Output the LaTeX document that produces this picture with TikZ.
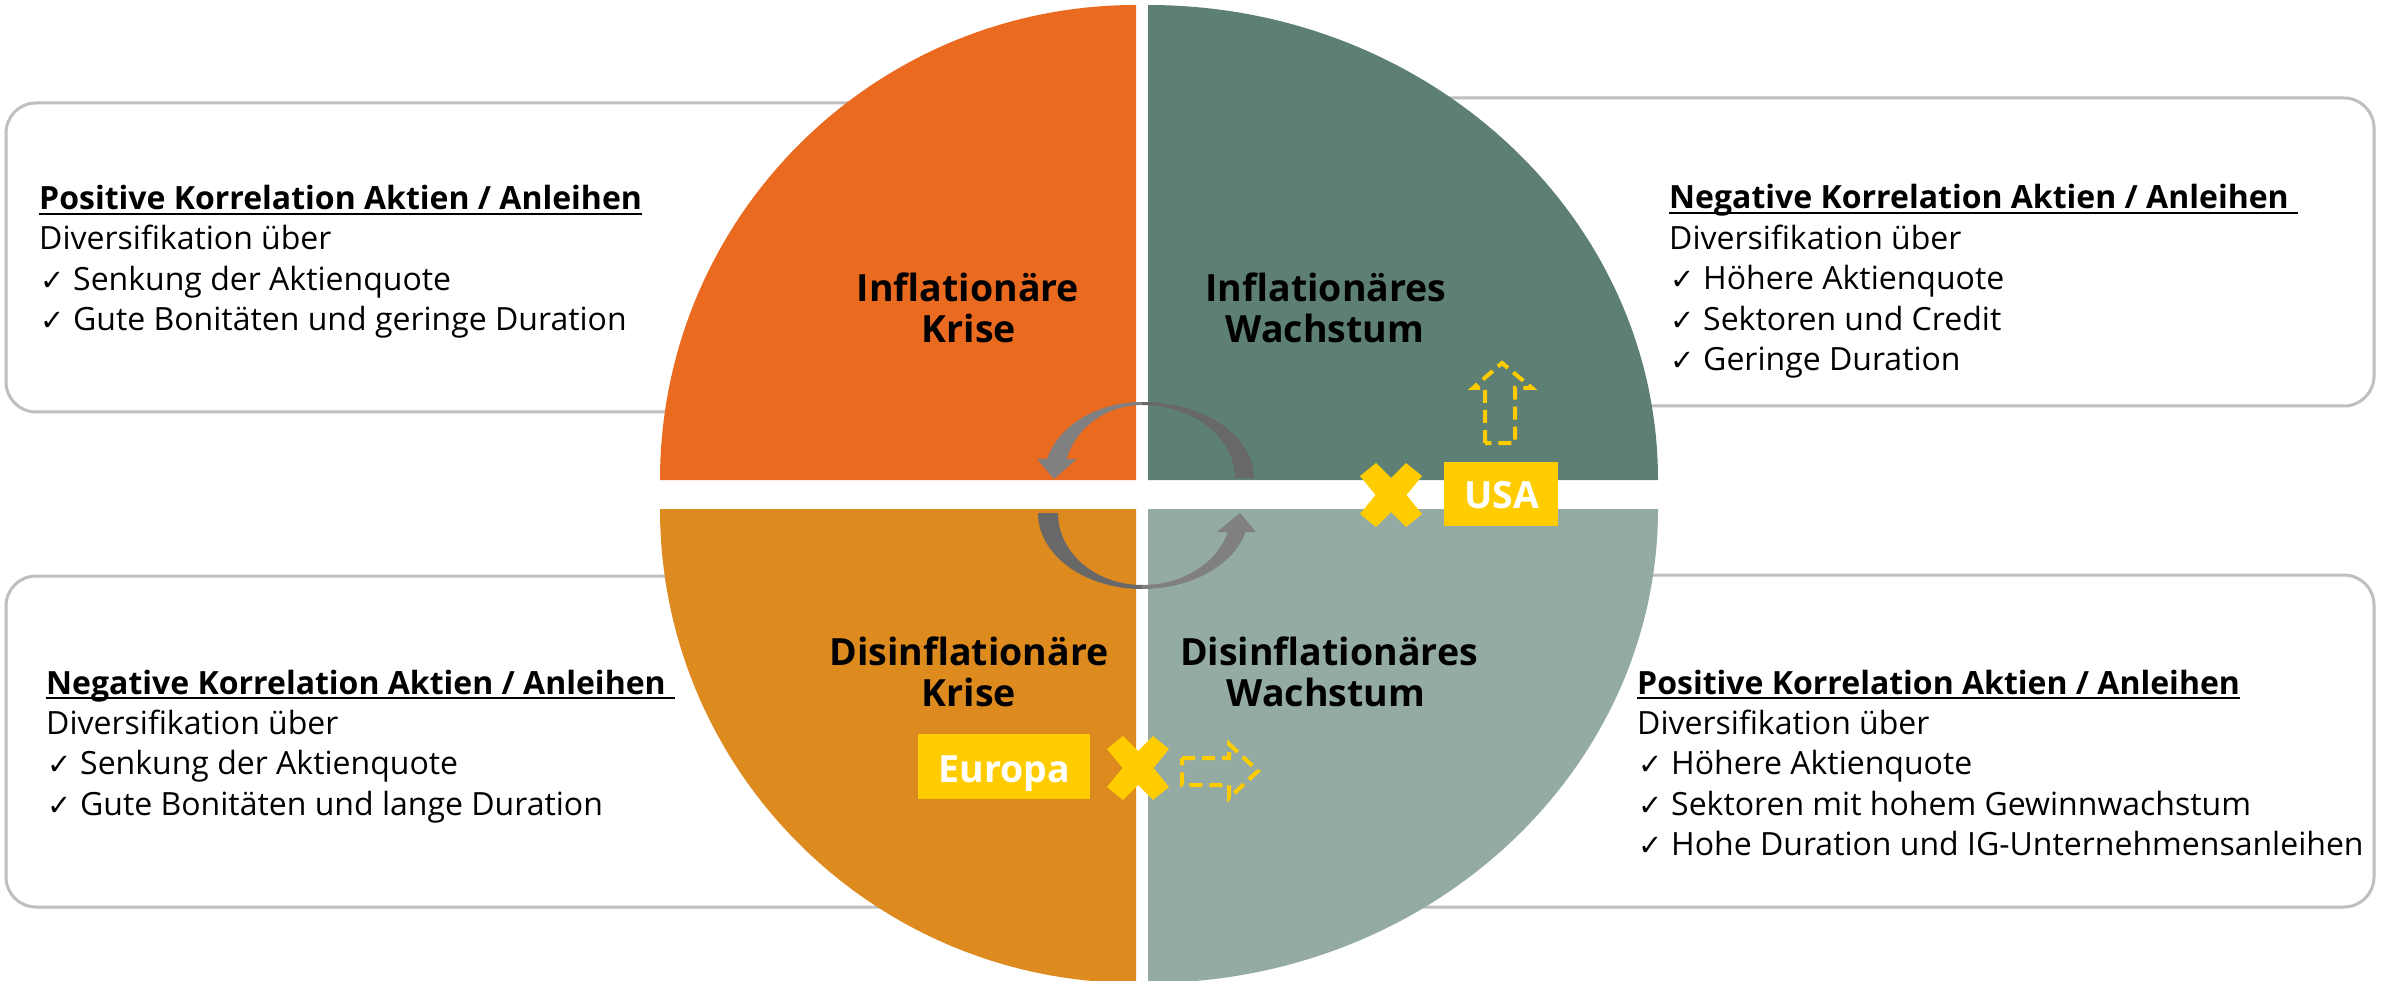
\documentclass[tikz,border=0pt]{standalone}
\usepackage{fontspec}
\IfFontExistsTF{Noto Sans Bold}
  {\setmainfont{Noto Sans}[BoldFont={Noto Sans Bold}]}
  {\setmainfont{Open Sans}}
\newfontfamily\chkfont{DejaVu Sans}

\definecolor{qTL}{HTML}{EA6A20}
\definecolor{qTR}{HTML}{5E7F73}
\definecolor{qBL}{HTML}{DD8A1E}
\definecolor{qBR}{HTML}{94ABA3}
\definecolor{markyellow}{HTML}{FFCC00}
\definecolor{framegray}{HTML}{BFBFBF}
\definecolor{arrLight}{HTML}{808080}
\definecolor{arrDark}{HTML}{686868}

\newcommand\chk{\makebox[33pt][l]{\chkfont\fontsize{29}{29}\selectfont ✓}}

\tikzset{
  infobox/.style={draw=framegray, line width=3pt, fill=white, rounded corners=30pt},
  txt/.style={anchor=base west, inner sep=0pt, font=\fontsize{32}{38}\selectfont},
  ttl/.style={anchor=base west, inner sep=0pt, font=\bfseries\fontsize{32}{38}\selectfont},
  uline/.style={line width=2.6pt},
  quad/.style={anchor=base, inner sep=0pt, font=\bfseries\fontsize{37.5}{41}\selectfont},
  tagbox/.style={fill=markyellow, inner sep=0pt},
  tagtxt/.style={anchor=base, inner sep=0pt, text=white, font=\bfseries\fontsize{37.5}{40}\selectfont},
  dasharrow/.style={draw=markyellow, line width=4pt, dash pattern=on 13pt off 7pt},
}

\begin{document}
\begin{tikzpicture}[x=1pt,y=-1pt]
\useasboundingbox (0,0) rectangle (2399,981);

% information frames behind the circle
\draw[infobox] (6,103) rectangle (1000,412);
\draw[infobox] (1300,98) rectangle (2374,406);
\draw[infobox] (6,576) rectangle (1000,907);
\draw[infobox] (1300,575) rectangle (2374,907);

% four quadrants
\fill[qTL] (1136,480) -- (660,480) arc[start angle=180,end angle=270,x radius=476,y radius=475] -- cycle;
\fill[qTR] (1148,480) -- (1148,5) arc[start angle=270,end angle=360,x radius=510,y radius=475] -- cycle;
\fill[qBL] (1136,509) -- (1136,983) arc[start angle=90,end angle=180,x radius=476,y radius=474] -- cycle;
\fill[qBR] (1148,509) -- (1658,509) arc[start angle=0,end angle=90,x radius=510,y radius=474] -- cycle;

% cycle arrows in the centre
\fill[arrLight] (1142,402) arc[start angle=270,end angle=194.48,x radius=98,y radius=76]
  -- (1037,459) -- (1054,479) -- (1077,459) -- (1066.7,459)
  arc[start angle=195.1,end angle=270,x radius=78,y radius=73] -- cycle;
\fill[arrDark] (1142,402) arc[start angle=270,end angle=360,x radius=112,y radius=76]
  -- (1235,478) arc[start angle=0,end angle=-90,x radius=93,y radius=73] -- cycle;
\fill[arrDark] (1038,513) arc[start angle=180,end angle=90,x radius=104,y radius=76]
  -- (1142,585) arc[start angle=90,end angle=180,x radius=84,y radius=72] -- cycle;
\fill[arrLight] (1142,589) arc[start angle=90,end angle=14.48,x radius=107,y radius=76]
  -- (1256,532) -- (1240,513) -- (1217,532) -- (1227.8,532)
  arc[start angle=15.3,end angle=90,x radius=89,y radius=72] -- cycle;

% quadrant titles
\node[quad] (q1a) at (968,302) {Inflationäre};
\node[quad] (q1b) at (969,343) {Krise};
\node[quad] (q2a) at (1326,302) {Inflationäres};
\node[quad] (q2b) at (1325,343) {Wachstum};
\node[quad] (q3a) at (969,665) {Disinflationäre};
\node[quad] (q3b) at (969,706) {Krise};
\node[quad] (q4a) at (1329,665) {Disinflationäres};
\node[quad] (q4b) at (1326,706) {Wachstum};

% yellow crosses
\fill[markyellow, shift={(1391,495)}] (-31,-19) -- (-15,-32) -- (0,-17) -- (15,-32) -- (31,-19) -- (15.5,0)
  -- (31,19) -- (15,32) -- (0,17) -- (-15,32) -- (-31,19) -- (-15.5,0) -- cycle;
\fill[markyellow, shift={(1138,768)}] (-31,-19) -- (-15,-32) -- (0,-17) -- (15,-32) -- (31,-19) -- (15.5,0)
  -- (31,19) -- (15,32) -- (0,17) -- (-15,32) -- (-31,19) -- (-15.5,0) -- cycle;

% region tags
\node[tagbox, minimum width=114pt, minimum height=64pt] (usabox) at (1501,494) {};
\node[tagtxt] (usatxt) at (1502,508) {USA};
\node[tagbox, minimum width=172pt, minimum height=65pt] (eubox) at (1004,766.5) {};
\node[tagtxt] (eutxt) at (1004.5,782) {Europa};

% dashed direction arrows
\draw[dasharrow] (1485,443) -- (1485,388) -- (1473,388) -- (1502,363) -- (1532,388) -- (1515,388) -- (1515,443) -- cycle;
\draw[dasharrow] (1182,758) -- (1229,758) -- (1229,744) -- (1258,771) -- (1229,798) -- (1229,785) -- (1182,785) -- cycle;

% top left text
\node[ttl] (tlT) at (39,210) {Positive Korrelation Aktien / Anleihen};
\draw[uline] ([yshift=-4pt]tlT.base west) -- ([yshift=-4pt]tlT.base east);
\node[txt] (tl1) at (39,250) {Diversifikation über};
\node[txt] (tl2) at (40,291) {\chk Senkung der Aktienquote};
\node[txt] (tl3) at (40,331) {\chk Gute Bonitäten und geringe Duration};

% top right text
\node[ttl] (trT) at (1669,209) {Negative Korrelation Aktien / Anleihen};
\draw[uline] ([yshift=-4pt]trT.base west) -- ([yshift=-4pt,xshift=9pt]trT.base east);
\node[txt] (tr1) at (1669,250) {Diversifikation über};
\node[txt] (tr2) at (1670,290) {\chk Höhere Aktienquote};
\node[txt] (tr3) at (1670,331) {\chk Sektoren und Credit};
\node[txt] (tr4) at (1670,371) {\chk Geringe Duration};

% bottom left text
\node[ttl] (blT) at (46,694) {Negative Korrelation Aktien / Anleihen};
\draw[uline] ([yshift=-4pt]blT.base west) -- ([yshift=-4pt,xshift=9pt]blT.base east);
\node[txt] (bl1) at (46,734) {Diversifikation über};
\node[txt] (bl2) at (47,774) {\chk Senkung der Aktienquote};
\node[txt] (bl3) at (47,815) {\chk Gute Bonitäten und lange Duration};

% bottom right text
\node[ttl] (brT) at (1637,694) {Positive Korrelation Aktien / Anleihen};
\draw[uline] ([yshift=-4pt]brT.base west) -- ([yshift=-4pt]brT.base east);
\node[txt] (br1) at (1637,734) {Diversifikation über};
\node[txt] (br2) at (1638,774) {\chk Höhere Aktienquote};
\node[txt] (br3) at (1638,815) {\chk Sektoren mit hohem Gewinnwachstum};
\node[txt] (br4) at (1638,855) {\chk Hohe Duration und IG-Unternehmensanleihen};
\end{tikzpicture}
\end{document}
